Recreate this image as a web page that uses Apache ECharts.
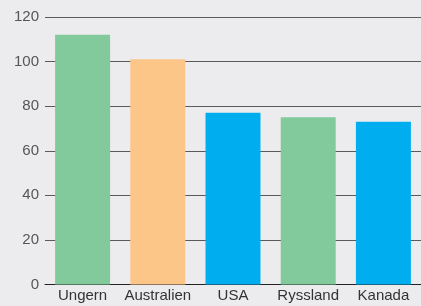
<!DOCTYPE html>
<html><head><meta charset="utf-8">
<script src="https://cdn.jsdelivr.net/npm/echarts@6/dist/echarts.min.js"></script>
<style>html,body{margin:0;padding:0;background:#ececee}#c{width:421px;height:306px}</style>
</head><body><div id="c"></div>
<script>
var categories = ["Ungern", "Australien", "USA", "Ryssland", "Kanada"];
var values = [112, 101, 77, 75, 73];
var barColors = ["#82ca9c", "#fdc689", "#00aeef", "#82ca9c", "#00aeef"];
var yTicks = [0, 20, 40, 60, 80, 100, 120];

var chart = echarts.init(document.getElementById('c'), null, {renderer: 'canvas'});
chart.setOption({
  backgroundColor: '#ececee',
  animation: false,
  grid: {left: 45, right: -2, top: 17, bottom: 21.5, containLabel: false},
  xAxis: {
    type: 'category', data: categories,
    axisLine: {show: true, lineStyle: {color: '#222', width: 1}},
    axisTick: {show: false},
    axisLabel: {interval: 0, hideOverlap: false, color: '#333', fontSize: 15, fontFamily: 'Liberation Sans, Arial, sans-serif', margin: 4}
  },
  yAxis: {
    type: 'value', min: yTicks[0], max: yTicks[yTicks.length-1], interval: 20,
    axisLine: {show: false}, axisTick: {show: false},
    axisLabel: {color: '#555', fontSize: 15, fontFamily: 'Liberation Sans, Arial, sans-serif', margin: 6},
    splitLine: {lineStyle: {color: '#5a5a5a', width: 1}}
  },
  series: [{
    type: 'bar', barWidth: 55,
    data: values.map(function(v, i){ return {value: v, itemStyle: {color: barColors[i]}}; })
  }]
});
</script></body></html>
